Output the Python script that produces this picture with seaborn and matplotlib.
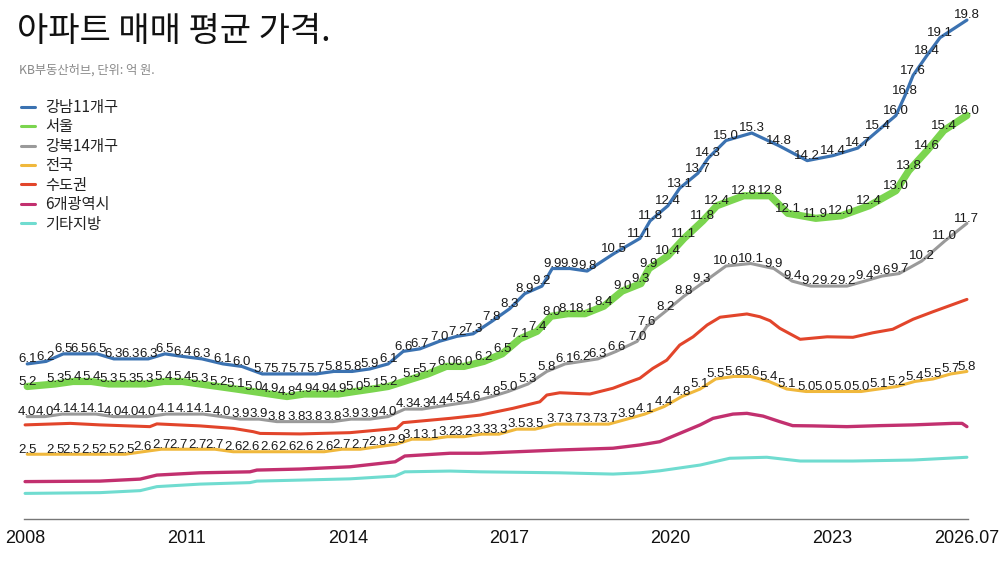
import pandas as pd
import matplotlib
matplotlib.use('Agg')
import matplotlib.pyplot as plt
import seaborn as sns

# 시점(연도, 소수) / 평균 매매가격(억 원) - 그림에서 읽은 값
gangnam_t = [2008.04, 2008.39, 2008.71, 2009.02, 2009.34, 2009.65, 2009.97, 2010.29, 2010.60, 2010.92,
             2011.29, 2011.68, 2012.03, 2012.41, 2012.74, 2013.07, 2013.41, 2013.74, 2014.08, 2014.41,
             2014.75, 2015.03, 2015.34, 2015.70, 2016.03, 2016.33, 2016.68, 2017.01, 2017.29, 2017.61,
             2017.80, 2018.13, 2018.45, 2018.95, 2019.43, 2019.62, 2019.95, 2020.17, 2020.51, 2020.70,
             2021.03, 2021.51, 2022.01, 2022.54, 2023.02, 2023.48, 2023.86, 2024.19, 2024.36, 2024.51,
             2024.77, 2025.01, 2025.51]
gangnam_v = [6.1, 6.2, 6.5, 6.5, 6.5, 6.3, 6.3, 6.3, 6.5, 6.4,
             6.3, 6.1, 6.0, 5.7, 5.7, 5.7, 5.7, 5.8, 5.8, 5.9,
             6.1, 6.6, 6.7, 7.0, 7.2, 7.3, 7.8, 8.3, 8.9, 9.2,
             9.9, 9.9, 9.8, 10.5, 11.1, 11.8, 12.4, 13.1, 13.7, 14.3,
             15.0, 15.3, 14.8, 14.2, 14.4, 14.7, 15.4, 16.0, 16.8, 17.6,
             18.4, 19.1, 19.8]

seoul_t = [2008.04, 2008.56, 2008.89, 2009.23, 2009.56, 2009.90, 2010.23, 2010.58, 2010.92, 2011.25,
           2011.59, 2011.92, 2012.24, 2012.55, 2012.87, 2013.19, 2013.50, 2013.82, 2014.13, 2014.45,
           2014.75, 2015.19, 2015.49, 2015.83, 2016.16, 2016.53, 2016.87, 2017.20, 2017.52, 2017.78,
           2018.09, 2018.41, 2018.76, 2019.10, 2019.45, 2019.60, 2019.95, 2020.25, 2020.60, 2020.86,
           2021.36, 2021.85, 2022.18, 2022.70, 2023.17, 2023.69, 2024.19, 2024.43, 2024.77, 2025.08,
           2025.51]
seoul_v = [5.2, 5.3, 5.4, 5.4, 5.3, 5.3, 5.3, 5.4, 5.4, 5.3,
           5.2, 5.1, 5.0, 4.9, 4.8, 4.9, 4.9, 4.9, 5.0, 5.1,
           5.2, 5.5, 5.7, 6.0, 6.0, 6.2, 6.5, 7.1, 7.4, 8.0,
           8.1, 8.1, 8.4, 9.0, 9.3, 9.9, 10.4, 11.1, 11.8, 12.4,
           12.8, 12.8, 12.1, 11.9, 12.0, 12.4, 13.0, 13.8, 14.6, 15.4,
           16.0]

gangbuk_t = [2008.04, 2008.37, 2008.69, 2009.00, 2009.32, 2009.64, 2009.95, 2010.27, 2010.62, 2010.97,
             2011.31, 2011.66, 2012.00, 2012.35, 2012.68, 2013.04, 2013.37, 2013.72, 2014.06, 2014.41,
             2014.75, 2015.06, 2015.38, 2015.68, 2015.99, 2016.31, 2016.68, 2016.98, 2017.35, 2017.70,
             2018.04, 2018.35, 2018.65, 2018.99, 2019.38, 2019.56, 2019.91, 2020.25, 2020.58, 2021.03,
             2021.49, 2021.92, 2022.26, 2022.61, 2022.94, 2023.28, 2023.61, 2023.93, 2024.25, 2024.67,
             2025.10, 2025.51]
gangbuk_v = [4.0, 4.0, 4.1, 4.1, 4.1, 4.0, 4.0, 4.0, 4.1, 4.1,
             4.1, 4.0, 3.9, 3.9, 3.8, 3.8, 3.8, 3.8, 3.9, 3.9,
             4.0, 4.3, 4.3, 4.4, 4.5, 4.6, 4.8, 5.0, 5.3, 5.8,
             6.1, 6.2, 6.3, 6.6, 7.0, 7.6, 8.2, 8.8, 9.3, 10.0,
             10.1, 9.9, 9.4, 9.2, 9.2, 9.2, 9.4, 9.6, 9.7, 10.2,
             11.0, 11.7]

national_t = [2008.04, 2008.56, 2008.87, 2009.21, 2009.54, 2009.86, 2010.19, 2010.53, 2010.86, 2011.20,
              2011.53, 2011.87, 2012.20, 2012.54, 2012.87, 2013.20, 2013.56, 2013.89, 2014.23, 2014.56,
              2014.90, 2015.19, 2015.52, 2015.85, 2016.16, 2016.49, 2016.81, 2017.14, 2017.48, 2017.87,
              2018.20, 2018.54, 2018.85, 2019.19, 2019.52, 2019.88, 2020.21, 2020.55, 2020.84, 2021.18,
              2021.49, 2021.83, 2022.16, 2022.52, 2022.85, 2023.19, 2023.54, 2023.87, 2024.21, 2024.54,
              2024.88, 2025.21, 2025.51]
national_v = [2.5, 2.5, 2.5, 2.5, 2.5, 2.5, 2.6, 2.7, 2.7, 2.7,
              2.7, 2.6, 2.6, 2.6, 2.6, 2.6, 2.6, 2.7, 2.7, 2.8,
              2.9, 3.1, 3.1, 3.2, 3.2, 3.3, 3.3, 3.5, 3.5, 3.7,
              3.7, 3.7, 3.7, 3.9, 4.1, 4.4, 4.8, 5.1, 5.5, 5.6,
              5.6, 5.4, 5.1, 5.0, 5.0, 5.0, 5.0, 5.1, 5.2, 5.4,
              5.5, 5.7, 5.8]

capital_t = [2008.00, 2008.84, 2009.39, 2010.32, 2010.45, 2011.25, 2011.87, 2012.24, 2012.37, 2013.11,
             2014.04, 2014.91, 2015.03, 2015.90, 2016.46, 2017.07, 2017.57, 2017.70, 2017.94, 2018.50,
             2018.93, 2019.25, 2019.43, 2019.67, 2019.93, 2020.17, 2020.42, 2020.68, 2020.92, 2021.42,
             2021.66, 2021.85, 2022.03, 2022.41, 2022.91, 2023.39, 2023.76, 2024.13, 2024.51, 2024.88,
             2025.51]
capital_v = [3.67, 3.73, 3.67, 3.60, 3.71, 3.63, 3.53, 3.40, 3.33, 3.31,
             3.36, 3.53, 3.76, 3.93, 4.06, 4.33, 4.59, 4.86, 4.95, 4.90,
             5.13, 5.39, 5.53, 5.92, 6.25, 6.85, 7.18, 7.65, 7.96, 8.09,
             7.98, 7.82, 7.52, 7.08, 7.18, 7.16, 7.34, 7.48, 7.88, 8.18,
             8.67]

metro_t = [2008.00, 2009.39, 2010.14, 2010.45, 2011.25, 2012.18, 2012.31, 2013.11, 2014.04, 2014.88,
           2015.06, 2015.90, 2016.46, 2017.94, 2018.93, 2019.43, 2019.80, 2020.17, 2020.55, 2020.79,
           2021.16, 2021.42, 2021.72, 2022.03, 2022.27, 2022.65, 2023.28, 2023.89, 2024.51, 2025.25,
           2025.42, 2025.51]
metro_v = [1.41, 1.43, 1.51, 1.67, 1.76, 1.80, 1.87, 1.91, 2.00, 2.20,
           2.43, 2.54, 2.54, 2.67, 2.74, 2.87, 3.00, 3.33, 3.67, 3.93,
           4.10, 4.13, 4.02, 3.80, 3.64, 3.63, 3.60, 3.64, 3.67, 3.73,
           3.73, 3.60]

other_t = [2008.00, 2009.39, 2010.14, 2010.45, 2011.25, 2012.18, 2012.31, 2013.11, 2014.04, 2014.88,
           2015.06, 2015.90, 2016.46, 2017.94, 2018.93, 2019.43, 2019.80, 2020.55, 2021.10, 2021.79,
           2022.41, 2023.39, 2024.51, 2025.51]
other_v = [0.94, 0.97, 1.05, 1.21, 1.31, 1.37, 1.43, 1.47, 1.52, 1.63,
           1.80, 1.83, 1.80, 1.76, 1.71, 1.76, 1.84, 2.07, 2.34, 2.38,
           2.23, 2.23, 2.27, 2.38]

tick_years = [2008, 2011, 2014, 2017, 2020, 2023, 2025.51]
tick_labels = ['2008', '2011', '2014', '2017', '2020', '2023', '2026.07']

# (이름, 시점, 값, 색, 선 굵기, 값 표시 여부)
series = [
    ('강남11개구', gangnam_t, gangnam_v, '#3b72b1', 2.3, True),
    ('서울', seoul_t, seoul_v, '#7bd54f', 5.2, True),
    ('강북14개구', gangbuk_t, gangbuk_v, '#9a9a9a', 2.2, True),
    ('전국', national_t, national_v, '#f0b83c', 2.2, True),
    ('수도권', capital_t, capital_v, '#e2452b', 2.2, False),
    ('6개광역시', metro_t, metro_v, '#c2306f', 2.4, False),
    ('기타지방', other_t, other_v, '#70dcd0', 2.2, False),
]

sns.set_theme(style='white')
plt.rcParams['font.family'] = ['Noto Sans CJK KR', 'DejaVu Sans']

fig = plt.figure(figsize=(10, 5.63), dpi=100)
ax = fig.add_axes([0.024, 1 - 519 / 563, 0.944, 519 / 563])

for name, t, v, color, lw, show in series:
    df = pd.DataFrame({'t': t, 'v': v})
    sns.lineplot(data=df, x='t', y='v', color=color, linewidth=lw, label=name,
                 sort=False, estimator=None, ax=ax)
    if show:
        for x, y in zip(t, v):
            ax.annotate(f'{y:.1f}', (x, y), xytext=(0, 1.2), textcoords='offset points',
                        ha='center', va='baseline', fontsize=9.5, color='#1a1a1a',
                        family='Liberation Sans', zorder=5)

for line in ax.lines:
    line.set_solid_capstyle('round')
    line.set_clip_on(False)

ax.set_xlim(2007.98, 2025.53)
ax.set_ylim(-0.08, 20.6)
ax.set_xlabel('')
ax.set_ylabel('')
ax.set_yticks([])
ax.set_xticks(tick_years)
ax.set_xticklabels(tick_labels, family='Liberation Sans', fontsize=13, color='#111111')
ax.tick_params(axis='x', length=0, pad=8)
for side in ['top', 'left', 'right']:
    ax.spines[side].set_visible(False)
ax.spines['bottom'].set_color('#777777')
ax.spines['bottom'].set_linewidth(1.0)
ax.set_facecolor('none')

leg = ax.legend(loc='upper left', bbox_to_anchor=(0.021, 1 - 99 / 563),
                bbox_transform=fig.transFigure, frameon=False, fontsize=11,
                handlelength=0.9, handletextpad=0.7, labelspacing=0.16,
                borderpad=0, borderaxespad=0)
for h in leg.get_lines():
    h.set_linewidth(2.2)
for txt in leg.get_texts():
    txt.set_color('#222222')

fig.text(0.017, 1 - 31 / 563, '아파트 매매 평균 가격.', fontsize=24.5, color='#111111',
         va='center', ha='left')
fig.text(0.019, 1 - 70 / 563, 'KB부동산허브, 단위: 억 원.', fontsize=8.8, color='#888888',
         va='center', ha='left')

fig.savefig('out.png', dpi=100)
